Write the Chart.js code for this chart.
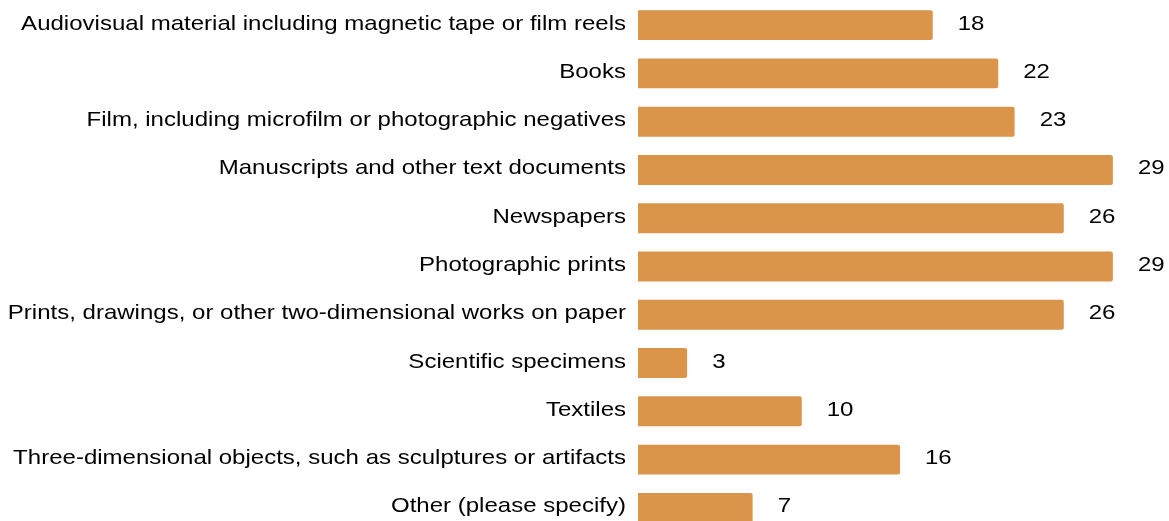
<!DOCTYPE html>
<html>
<head>
<meta charset="utf-8">
<script src="https://cdn.jsdelivr.net/npm/chart.js@4.4.1/dist/chart.umd.min.js"></script>
<style>
  html, body { margin: 0; padding: 0; background: #ffffff; overflow: hidden; }
  #wrap { position: relative; width: 1169px; height: 532px; }
</style>
</head>
<body>
<div id="wrap"><canvas id="chart"></canvas></div>
<script>
const categories = [
  "Audiovisual material including magnetic tape or film reels",
  "Books",
  "Film, including microfilm or photographic negatives",
  "Manuscripts and other text documents",
  "Newspapers",
  "Photographic prints",
  "Prints, drawings, or other two-dimensional works on paper",
  "Scientific specimens",
  "Textiles",
  "Three-dimensional objects, such as sculptures or artifacts",
  "Other (please specify)"
];
const responses = [18, 22, 23, 29, 26, 29, 26, 3, 10, 16, 7];

const FONT = "'Liberation Sans', Arial, Helvetica, sans-serif";
const TEXT_SIZE = 21;
const TEXT_STRETCH = 1.144;   // glyphs are drawn slightly wide
const BASELINE_SHIFT = 4.5;   // baseline below the bar centre

function wideText(ctx, text, x, y, align) {
  ctx.save();
  ctx.translate(x, y);
  ctx.scale(TEXT_STRETCH, 1);
  ctx.textAlign = align;
  ctx.textBaseline = 'alphabetic';
  ctx.fillText(text, 0, 0);
  ctx.restore();
}

// Category names to the left of the axis, value next to each bar end
const barText = {
  id: 'barText',
  afterDatasetsDraw(chart) {
    const ctx = chart.ctx;
    const yScale = chart.scales.y;
    const meta = chart.getDatasetMeta(0);
    ctx.save();
    ctx.font = TEXT_SIZE + 'px ' + FONT;
    ctx.fillStyle = '#000000';
    chart.data.labels.forEach((label, i) => {
      const y = yScale.getPixelForTick(i) + BASELINE_SHIFT;
      wideText(ctx, label, yScale.right - 12, y, 'right');
    });
    meta.data.forEach((bar, i) => {
      wideText(ctx, String(chart.data.datasets[0].data[i]), bar.x + 25, bar.y + BASELINE_SHIFT, 'left');
    });
    ctx.restore();
  }
};

new Chart(document.getElementById('chart'), {
  type: 'bar',
  data: {
    labels: categories,
    datasets: [{
      data: responses,
      backgroundColor: '#DA954B',
      borderWidth: 0,
      borderRadius: { topRight: 2, bottomRight: 2, topLeft: 0, bottomLeft: 0 },
      borderSkipped: false,
      categoryPercentage: 1,
      barPercentage: 0.62
    }]
  },
  options: {
    indexAxis: 'y',
    responsive: true,
    maintainAspectRatio: false,
    animation: false,
    layout: { padding: { top: 1, right: 7, bottom: 0, left: 0 } },
    plugins: {
      legend: { display: false },
      tooltip: { enabled: false }
    },
    scales: {
      x: {
        min: 0,
        max: 32,
        display: false
      },
      y: {
        grid: { display: false },
        border: { display: false },
        ticks: { display: false },
        afterFit(scale) { scale.width = 638; }
      }
    }
  },
  plugins: [barText]
});
</script>
</body>
</html>
